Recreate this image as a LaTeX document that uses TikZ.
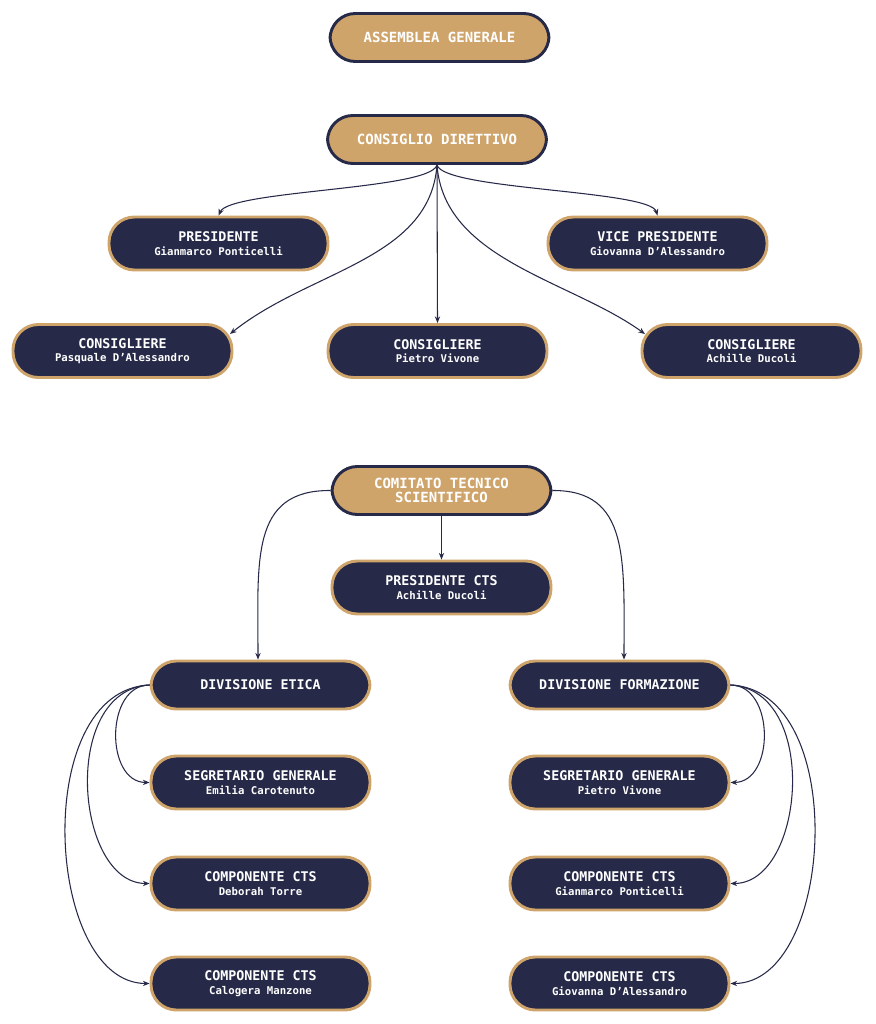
\documentclass[tikz,border=0pt]{standalone}
\usepackage{fontspec}
\setmainfont{DejaVu Sans Mono}
\usetikzlibrary{arrows.meta}
\definecolor{navy}{HTML}{262A48}
\definecolor{tan}{HTML}{CFA46B}
\begin{document}
\begin{tikzpicture}[x=0.75pt,y=-0.75pt,
 box/.style={rounded corners=19pt,minimum width=219*0.75pt,line width=2.2pt,align=center,inner sep=0pt},
 top/.style={box,fill=tan,draw=navy,text=white,minimum height=48*0.75pt,font=\bfseries\fontsize{10.5}{12}\selectfont},
 per/.style={box,fill=navy,draw=tan,text=white,minimum height=53*0.75pt,font=\bfseries\fontsize{10}{11}\selectfont},
 arr/.style={navy,line width=0.8pt,-{Stealth[length=5pt,width=4pt]}}]
\useasboundingbox (0,0) rectangle (875,1024);
\newcommand{\pn}[2]{#1\\[-1pt]{\fontsize{8}{9}\selectfont #2}}
\node[top] (ag) at (439.5,37.5) {ASSEMBLEA GENERALE};
\node[top] (cd) at (437,139.5) {CONSIGLIO DIRETTIVO};
\node[per] (pr) at (218.5,243.5) {\pn{PRESIDENTE}{Gianmarco Ponticelli}};
\node[per] (vp) at (657.5,243.5) {\pn{VICE PRESIDENTE}{Giovanna D'Alessandro}};
\node[per] (c1) at (122.5,351) {\pn{CONSIGLIERE}{Pasquale D'Alessandro}};
\node[per] (c2) at (437.5,351) {\pn{CONSIGLIERE}{Pietro Vivone}};
\node[per] (c3) at (751.5,351) {\pn{CONSIGLIERE}{Achille Ducoli}};
\node[top] (cts) at (441.5,490.5) {COMITATO TECNICO\\[-1pt]SCIENTIFICO};
\node[per] (pc) at (441.5,587.5) {\pn{PRESIDENTE CTS}{Achille Ducoli}};
\node[per,minimum height=48*0.75pt] (de) at (260.5,685) {DIVISIONE ETICA};
\node[per,minimum height=48*0.75pt] (df) at (619.5,685) {DIVISIONE FORMAZIONE};
\node[per] (s1) at (260.5,782.5) {\pn{SEGRETARIO GENERALE}{Emilia Carotenuto}};
\node[per] (e2) at (260.5,883.5) {\pn{COMPONENTE CTS}{Deborah Torre}};
\node[per] (e3) at (260.5,983.5) {\pn{COMPONENTE CTS}{Calogera Manzone}};
\node[per] (s2) at (619.5,782.5) {\pn{SEGRETARIO GENERALE}{Pietro Vivone}};
\node[per] (f2) at (619.5,883.5) {\pn{COMPONENTE CTS}{Gianmarco Ponticelli}};
\node[per] (f3) at (619.5,983.5) {\pn{COMPONENTE CTS}{Giovanna D'Alessandro}};
\coordinate (o) at (437,165);
\draw[arr] (o) .. controls (430,190) and (230,190) .. (pr.north);
\draw[arr] (o) .. controls (444,190) and (650,190) .. (vp.north);
\draw[arr] (o) .. controls (430,260) and (310,270) .. (230,334);
\draw[arr] (o) -- (c2.north);
\draw[arr] (o) .. controls (444,260) and (570,280) .. (645,334);
\draw[arr] (cts.west) .. controls (250,490) and (258,560) .. (de.north-|258,0);
\draw[arr] (cts.east) .. controls (630,490) and (624,560) .. (df.north-|624,0);
\draw[arr] (cts.south) -- (pc.north);
\draw[arr] (de.west) .. controls (105,685) and (105,782) .. (s1.west);
\draw[arr] (de.west) .. controls (60,690) and (75,883) .. (e2.west);
\draw[arr] (de.west) .. controls (30,690) and (45,983) .. (e3.west);
\draw[arr] (df.east) .. controls (775,685) and (775,782) .. (s2.east);
\draw[arr] (df.east) .. controls (820,690) and (805,883) .. (f2.east);
\draw[arr] (df.east) .. controls (850,690) and (835,983) .. (f3.east);
\end{tikzpicture}
\end{document}
